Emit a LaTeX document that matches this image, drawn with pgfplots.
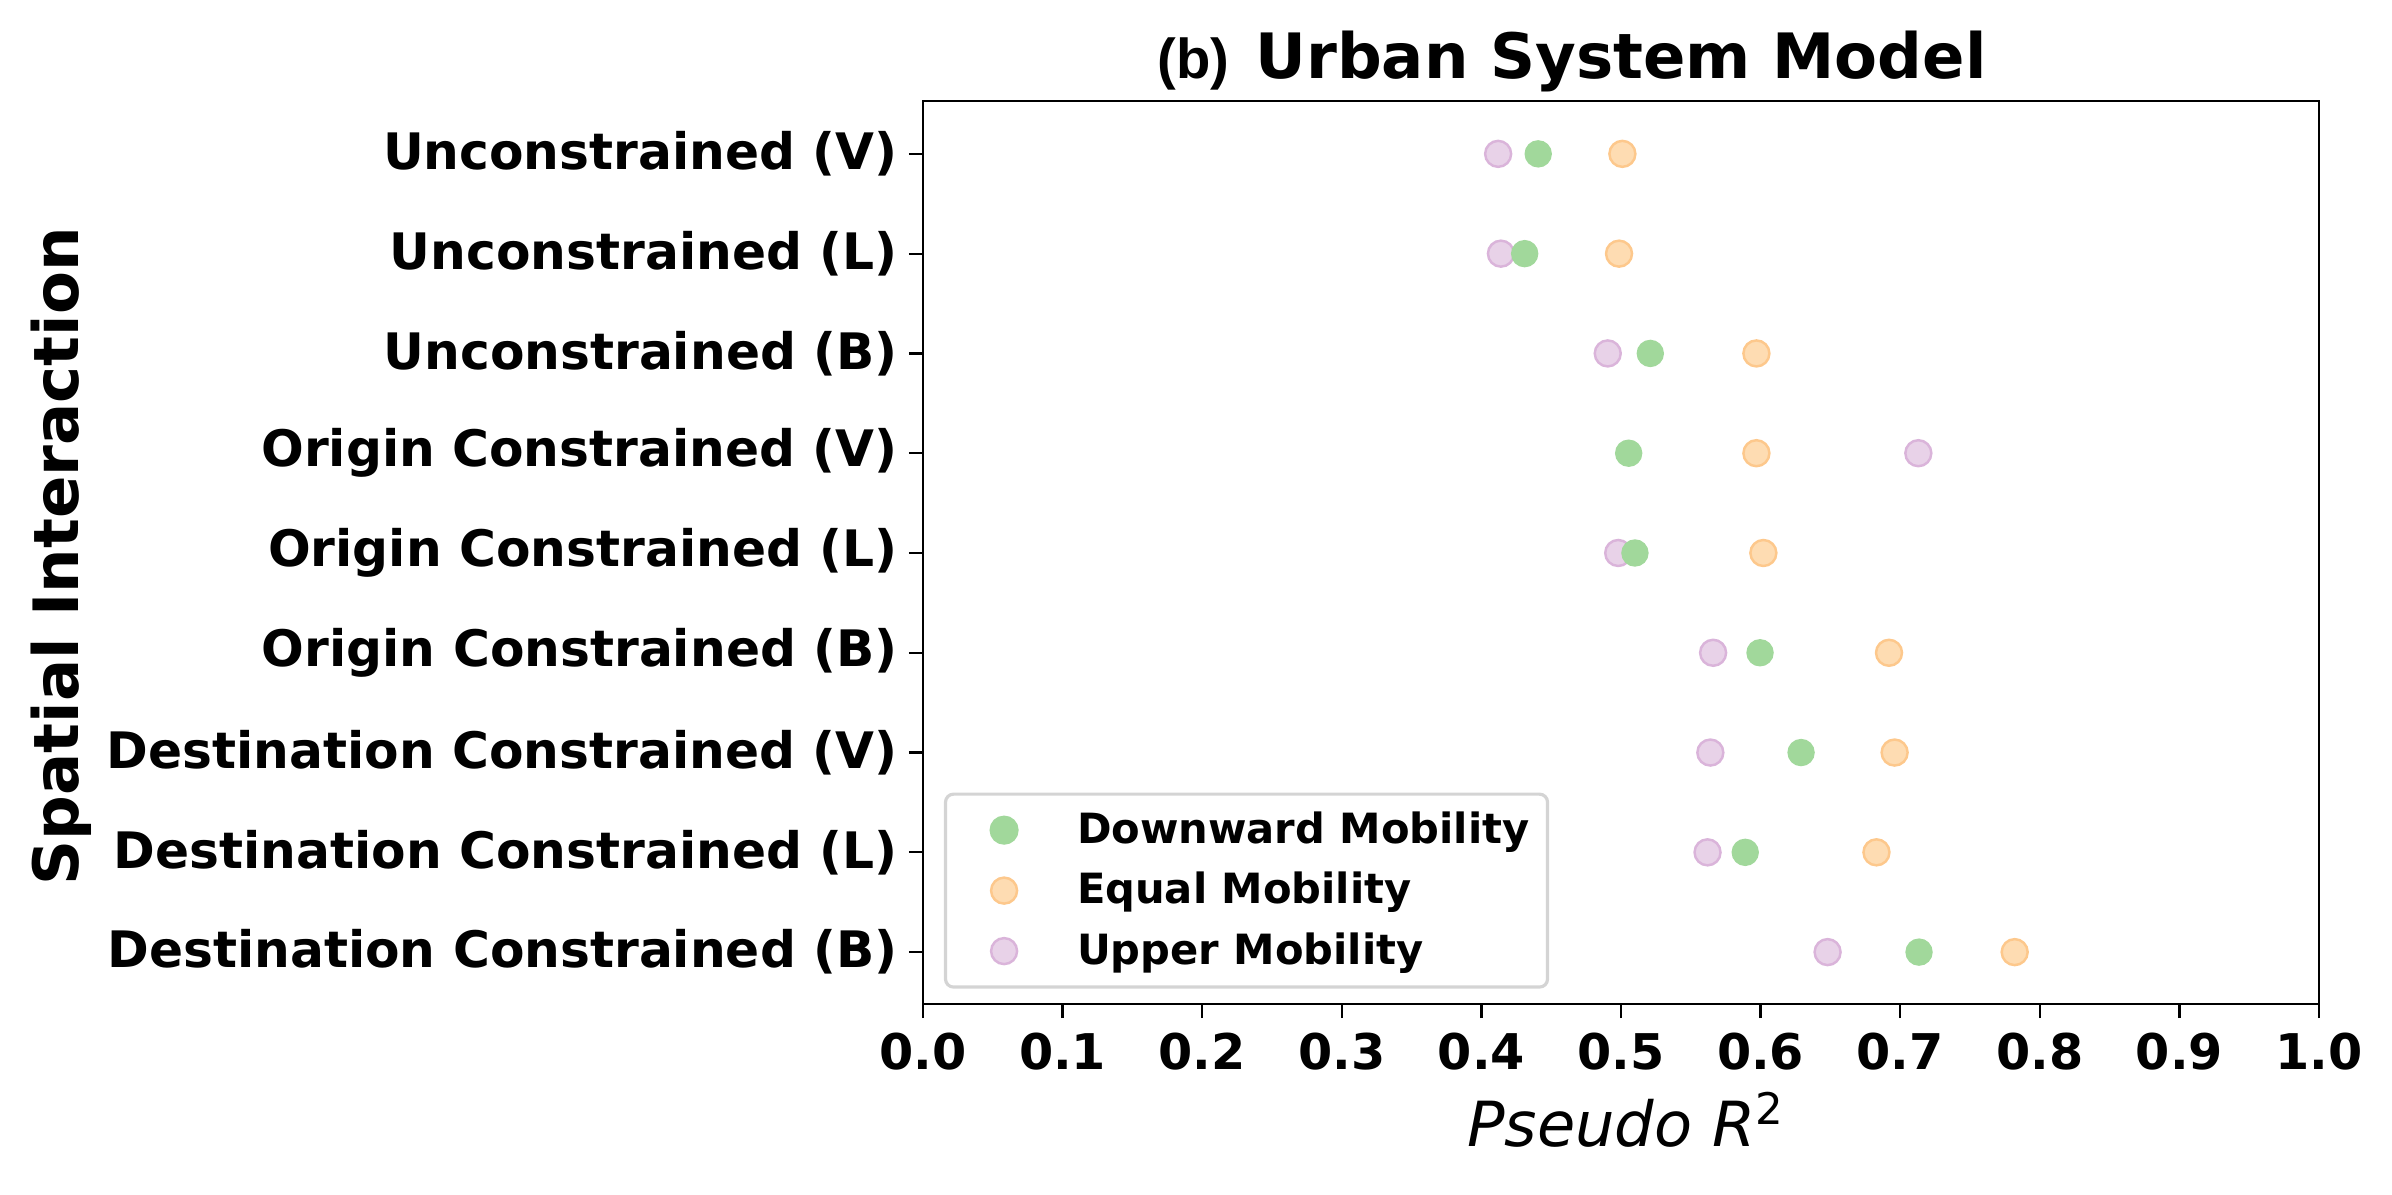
\documentclass[border=0pt]{standalone}
\usepackage{fontspec}
\setmainfont{DejaVu Sans}
\newfontfamily\arialfont{Liberation Sans}
\usepackage{pgfplots}
\pgfplotsset{compat=1.18}
\definecolor{cgreen}{HTML}{A1D89B}
\definecolor{corangef}{HTML}{FEDCB2}
\definecolor{corangee}{HTML}{FDC88C}
\definecolor{cpurplef}{HTML}{E8D2E8}
\definecolor{cpurplee}{HTML}{DAB4DA}
\begin{document}
\begin{tikzpicture}
\useasboundingbox (0,0) rectangle (239.2mm,119.5mm);
\begin{axis}[
  at={(92.3mm,19.1mm)}, anchor=south west,
  width=139.6mm, height=90.3mm, scale only axis,
  xmin=0, xmax=1, ymin=-0.53, ymax=8.52, y dir=reverse,
  xtick={0,0.1,0.2,0.3,0.4,0.5,0.6,0.7,0.8,0.9,1},
  xticklabels={0.0,0.1,0.2,0.3,0.4,0.5,0.6,0.7,0.8,0.9,1.0},
  ytick={0,1,2,3,4,5,6,7,8},
  yticklabels={Unconstrained (V),Unconstrained (L),Unconstrained (B),Origin Constrained (V),Origin Constrained (L),Origin Constrained (B),Destination Constrained (V),Destination Constrained (L),Destination Constrained (B)},
  xtick pos=left, ytick pos=left,
  tick align=outside, major tick length=1.4mm,
  tick style={black, line width=0.65pt},
  axis line style={line width=0.65pt},
  xticklabel style={font=\bfseries\fontsize{14}{16}\selectfont, inner sep=0.6mm, yshift=-0.8mm},
  yticklabel style={font=\bfseries\fontsize{14.3}{16}\selectfont, inner sep=1.05mm},
  legend style={at={(0.015,0.017)}, anchor=south west, draw=black!17, line width=0.9pt,
    rounded corners=0.8mm, font=\bfseries\fontsize{11.85}{13.5}\selectfont,
    row sep=0.95mm, inner xsep=1.1mm, inner ysep=1.05mm},
  legend cell align=left,
  legend image code/.code={\path (-4.6mm,0mm) (6.43mm,0mm); \draw[#1] plot coordinates {(0mm,0mm)};},
  reverse legend,
]
\addplot[only marks, mark=*, mark size=1.3mm, mark options={fill=cpurplef, draw=cpurplee, line width=0.7pt}] coordinates {
(0.412,0) (0.414,1) (0.4905,2) (0.713,3) (0.498,4) (0.566,5) (0.564,6) (0.562,7) (0.648,8)};
\addlegendentry{Upper Mobility}
\addplot[only marks, mark=*, mark size=1.3mm, mark options={fill=corangef, draw=corangee, line width=0.7pt}] coordinates {
(0.501,0) (0.4986,1) (0.597,2) (0.597,3) (0.602,4) (0.692,5) (0.696,6) (0.683,7) (0.782,8)};
\addlegendentry{Equal Mobility}
\addplot[only marks, mark=*, mark size=1.3mm, mark options={fill=cgreen, draw=cgreen}] coordinates {
(0.4407,0) (0.431,1) (0.521,2) (0.5055,3) (0.510,4) (0.5996,5) (0.629,6) (0.589,7) (0.7135,8)};
\addlegendentry{Downward Mobility}
\end{axis}
\node[anchor=base, font=\bfseries\fontsize{17.8}{20}\selectfont] at (162.1mm,111.6mm) {Urban System Model};
\node[anchor=base east, font=\arialfont\bfseries\fontsize{16}{18}\selectfont, inner sep=0pt] at (123.0mm,111.6mm) {(b)};
\node[rotate=90, font=\bfseries\fontsize{17.8}{20}\selectfont] at (6.08mm,63.87mm) {Spatial Interaction};
\node[anchor=base, font=\itshape\fontsize{17.7}{19}\selectfont] at (162.6mm,4.8mm) {Pseudo R\textsuperscript{\upshape 2}};
\end{tikzpicture}
\end{document}
